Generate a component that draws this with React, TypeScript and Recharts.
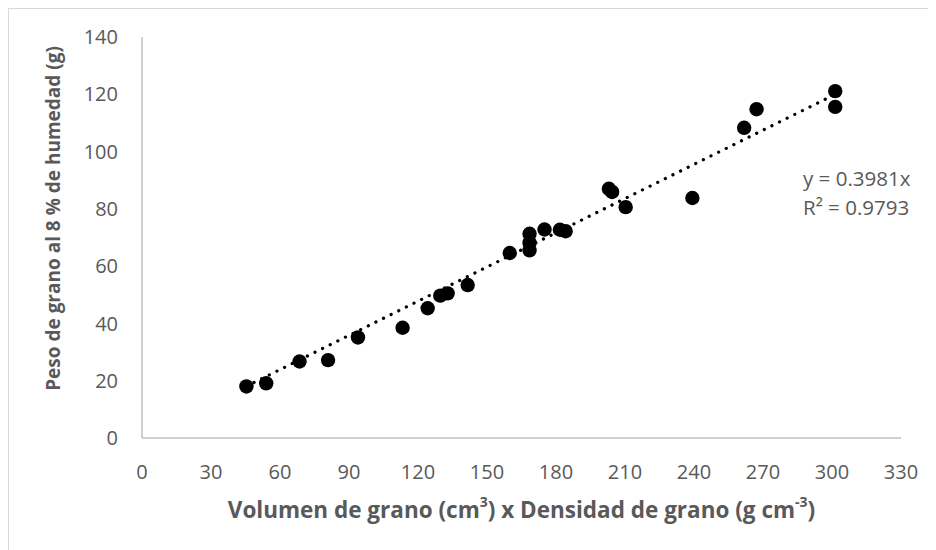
import React from "react";
import { ScatterChart, Scatter, XAxis, YAxis, Label } from "recharts";

// Grain volume x density (g) vs. grain weight at 8 % moisture (g)
const volumenDensidad = [
  45.4, 54.0, 68.5, 80.9, 93.9, 113.3, 124.2, 129.7, 132.9, 141.6, 159.9,
  168.5, 168.5, 168.5, 175.0, 181.7, 184.2, 203.0, 204.4, 210.3, 239.3,
  261.8, 267.2, 301.4, 301.4,
];
const pesoGrano = [
  18.0, 19.1, 26.7, 27.2, 35.1, 38.5, 45.3, 49.7, 50.5, 53.4, 64.6,
  71.3, 68.2, 65.5, 72.8, 72.7, 72.2, 87.0, 85.9, 80.6, 83.8,
  108.3, 114.8, 121.1, 115.6,
];

const xTicks = [0, 30, 60, 90, 120, 150, 180, 210, 240, 270, 300, 330];
const yTicks = [0, 20, 40, 60, 80, 100, 120, 140];

// Linear fit through the origin
const pendiente = 0.3981;
const r2 = 0.9793;

const puntos = volumenDensidad.map((x, i) => ({ x, y: pesoGrano[i] }));
const xMin = Math.min(...volumenDensidad);
const xMax = Math.max(...volumenDensidad);
const tendencia = [
  { x: xMin, y: pendiente * xMin },
  { x: xMax, y: pendiente * xMax },
];

const FONT = "'Open Sans', sans-serif";
const GRIS = "#595959";

const Punto = (p: any) => <circle cx={p.cx} cy={p.cy} r={7.2} fill="#000" />;
const Nada = () => <g />;

const TituloX = (props: any) => {
  const vb = props.viewBox;
  const cx = vb.x + vb.width / 2;
  return (
    <text
      x={cx}
      y={500}
      textAnchor="middle"
      dominantBaseline="central"
      fontFamily={FONT}
      fontWeight="bold"
      fontSize={22.5}
      fill={GRIS}
    >
      Volumen de grano (cm
      <tspan dy={-8} fontSize={14}>3</tspan>
      <tspan dy={8}>) x Densidad de grano (g cm</tspan>
      <tspan dy={-8} fontSize={14}>-3</tspan>
      <tspan dy={8}>)</tspan>
    </text>
  );
};

const TituloY = (props: any) => {
  const vb = props.viewBox;
  const cy = vb.y + vb.height / 2 - 19;
  const cx = 44;
  return (
    <text
      x={cx}
      y={cy}
      transform={`rotate(-90 ${cx} ${cy})`}
      textAnchor="middle"
      dominantBaseline="central"
      fontFamily={FONT}
      fontWeight="bold"
      fontSize={19}
      fill={GRIS}
    >
      Peso de grano al 8 % de humedad (g)
    </text>
  );
};

export default function App() {
  const tick = { fill: GRIS, fontSize: 20, fontFamily: FONT };
  return (
    <div
      style={{
        position: "relative",
        width: 928,
        height: 542,
        borderTop: "1px solid #d9d9d9",
        borderLeft: "1px solid #d9d9d9",
        boxSizing: "border-box",
        background: "#fff",
      }}
    >
      <ScatterChart
        width={927}
        height={541}
        margin={{ top: 28, right: 35, bottom: 0, left: 0 }}
        style={{ position: "absolute", left: 0, top: 0 }}
      >
        <XAxis
          type="number"
          dataKey="x"
          domain={[0, 330]}
          ticks={xTicks}
          interval={0}
          tick={tick}
          tickLine={false}
          tickSize={0}
          tickMargin={27}
          height={112}
          axisLine={{ stroke: "#bfbfbf", strokeWidth: 1.5 }}
        >
          <Label content={<TituloX />} />
        </XAxis>
        <YAxis
          type="number"
          dataKey="y"
          domain={[0, 140]}
          ticks={yTicks}
          interval={0}
          tick={tick}
          tickLine={false}
          tickSize={0}
          tickMargin={24}
          width={133}
          axisLine={{ stroke: "#bfbfbf", strokeWidth: 1.5 }}
        >
          <Label content={<TituloY />} />
        </YAxis>
        <Scatter
          data={puntos}
          shape={Punto}
          isAnimationActive={false}
        />
        <Scatter
          data={tendencia}
          shape={Nada}
          line={{
            stroke: "#000",
            strokeWidth: 3.2,
            strokeDasharray: "0.1 8.4",
            strokeLinecap: "round",
          }}
          isAnimationActive={false}
        />
      </ScatterChart>
      <div
        style={{
          position: "absolute",
          left: 794,
          top: 155,
          fontFamily: FONT,
          fontSize: 20.5,
          lineHeight: "29px",
          color: GRIS,
          whiteSpace: "nowrap",
        }}
      >
        <div>y = {pendiente}x</div>
        <div>R² = {r2}</div>
      </div>
    </div>
  );
}
